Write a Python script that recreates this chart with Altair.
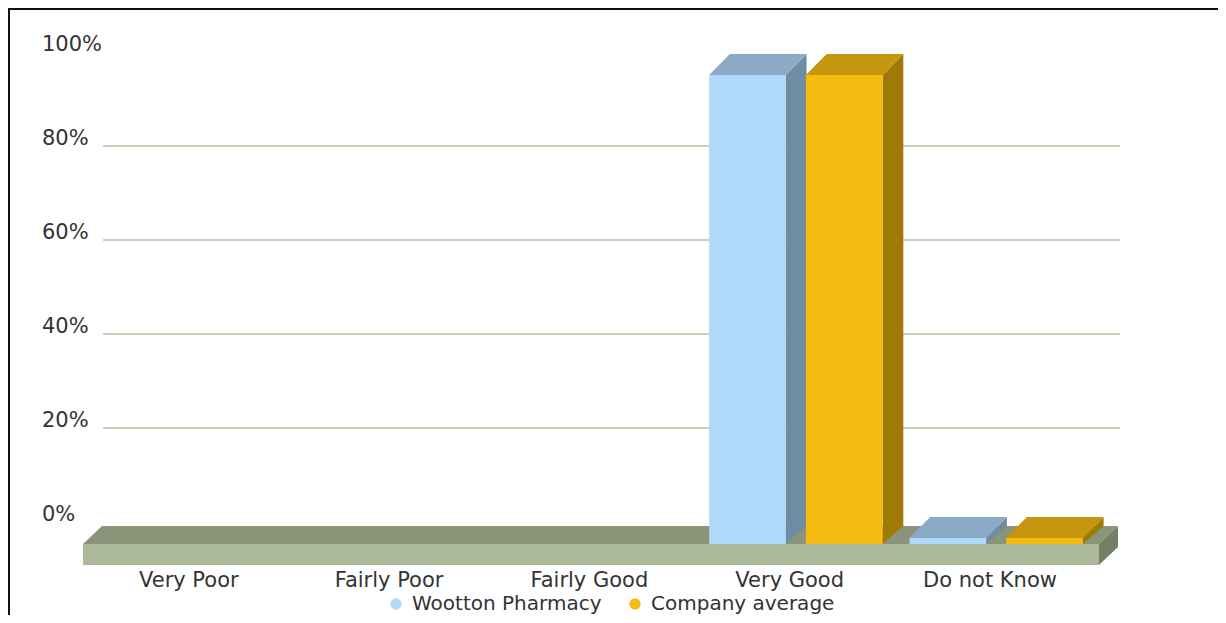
import altair as alt
import pandas as pd

# ---------------- data ----------------
categories = ["Very Poor", "Fairly Poor", "Fairly Good", "Very Good", "Do not Know"]
series = ["Wootton Pharmacy", "Company average"]
wootton = [0, 0, 0, 99.8, 1.3]
company = [0, 0, 0, 99.8, 1.3]
y_ticks = [0, 20, 40, 60, 80, 100]
y_tick_labels = ["0%", "20%", "40%", "60%", "80%", "100%"]
grid_values = [20, 40, 60, 80]

front_colors = ["#B0D8F8", "#F5BB10"]
top_colors = ["#8BAAC5", "#C6970E"]
side_colors = ["#6F8CA3", "#A07A08"]

# ---------------- 3D geometry (data units) ----------------
BAR_W = 0.383          # bar width in category units
BAR_DX = 0.1033        # depth offset in category units
BAR_DY = 4.47          # depth offset in percent units
SERIES_OFF = [-0.432, 0.051]
FLOOR_FRONT = -4.68    # y of floor front/top edge
FLOOR_BACK = -0.85     # y of floor back edge
FLOOR_BOTTOM = -9.15
FLOOR_L, FLOOR_R, FLOOR_DX = -0.558, 4.514, 0.095
LABEL_Y = -13.8
LABEL_DX = -0.03

FONT = "DejaVu Sans"
FS = 21
TXT = "#333333"

x_scale = alt.Scale(domain=[-0.4583, 4.6191], nice=False, zero=False)
y_scale = alt.Scale(domain=[0, 100], nice=False, zero=False)

values = [wootton, company]
front_rows, top_rows, side_rows = [], [], []
for si, s in enumerate(series):
    for k, cat in enumerate(categories):
        v = values[si][k]
        if v <= 0:
            continue
        x0 = k + SERIES_OFF[si]
        x1 = x0 + BAR_W
        yt = FLOOR_FRONT + v
        fid = f"{si}-{k}"
        front_rows.append(dict(series=s, cat=cat, value=v, x0=x0, x1=x1, y0=FLOOR_FRONT, y1=yt))
        top_rows.append(dict(id=fid, c=top_colors[si], y=yt, xa=x0, xb=x1))
        top_rows.append(dict(id=fid, c=top_colors[si], y=yt + BAR_DY, xa=x0 + BAR_DX, xb=x1 + BAR_DX))
        side_rows.append(dict(id=fid, c=side_colors[si], x=x1, ylo=FLOOR_FRONT, yhi=yt))
        side_rows.append(dict(id=fid, c=side_colors[si], x=x1 + BAR_DX, ylo=FLOOR_BACK, yhi=yt + BAR_DY))

front_df = pd.DataFrame(front_rows)
top_df = pd.DataFrame(top_rows)
side_df = pd.DataFrame(side_rows)

floor_front_df = pd.DataFrame([dict(x0=FLOOR_L, x1=FLOOR_R, y0=FLOOR_BOTTOM, y1=FLOOR_FRONT)])
floor_top_df = pd.DataFrame([
    dict(id="f", y=FLOOR_FRONT, xa=FLOOR_L, xb=FLOOR_R),
    dict(id="f", y=FLOOR_BACK, xa=FLOOR_L + FLOOR_DX, xb=FLOOR_R + FLOOR_DX),
])
floor_side_df = pd.DataFrame([
    dict(id="f", x=FLOOR_R, ylo=FLOOR_BOTTOM, yhi=FLOOR_FRONT),
    dict(id="f", x=FLOOR_R + FLOOR_DX, ylo=FLOOR_BOTTOM + (FLOOR_BACK - FLOOR_FRONT), yhi=FLOOR_BACK),
])
grid_df = pd.DataFrame({"v": grid_values})
ytick_df = pd.DataFrame({"v": y_ticks, "t": y_tick_labels})
label_df = pd.DataFrame({"cat": categories, "x": [k + LABEL_DX for k in range(len(categories))],
                         "y": [LABEL_Y] * len(categories)})

# ---------------- layers ----------------
ylabels = alt.Chart(ytick_df).mark_text(font=FONT, fontSize=FS, color=TXT, align="left",
                                         baseline="alphabetic", dy=-1).encode(
    y=alt.Y("v:Q", scale=y_scale, axis=None),
    x=alt.value(-61),
    text="t:N",
)

grid_layer = alt.Chart(grid_df).mark_rule(color="#B3C49D", strokeWidth=1.6).encode(
    y=alt.Y("v:Q", scale=y_scale, axis=None)
)

floor_top = alt.Chart(floor_top_df).mark_area(orient="horizontal", color="#8A9478").encode(
    y=alt.Y("y:Q", scale=y_scale, axis=None),
    x=alt.X("xa:Q", scale=x_scale, axis=None, stack=None),
    x2="xb:Q",
    detail="id:N",
)
floor_front = alt.Chart(floor_front_df).mark_rect(color="#ABB89A").encode(
    x=alt.X("x0:Q", scale=x_scale, axis=None), x2="x1:Q",
    y=alt.Y("y0:Q", scale=y_scale, axis=None), y2="y1:Q",
)
floor_side = alt.Chart(floor_side_df).mark_area(orient="vertical", color="#747E64").encode(
    x=alt.X("x:Q", scale=x_scale, axis=None),
    y=alt.Y("ylo:Q", scale=y_scale, axis=None, stack=None),
    y2="yhi:Q",
    detail="id:N",
)

sides = alt.Chart(side_df).mark_area(orient="vertical").encode(
    x=alt.X("x:Q", scale=x_scale, axis=None),
    y=alt.Y("ylo:Q", scale=y_scale, axis=None, stack=None),
    y2="yhi:Q",
    detail="id:N",
    color=alt.Color("c:N", scale=None),
)
tops = alt.Chart(top_df).mark_area(orient="horizontal").encode(
    y=alt.Y("y:Q", scale=y_scale, axis=None),
    x=alt.X("xa:Q", scale=x_scale, axis=None, stack=None),
    x2="xb:Q",
    detail="id:N",
    color=alt.Color("c:N", scale=None),
)
fronts = alt.Chart(front_df).mark_rect().encode(
    x=alt.X("x0:Q", scale=x_scale, axis=None), x2="x1:Q",
    y=alt.Y("y0:Q", scale=y_scale, axis=None), y2="y1:Q",
    color=alt.Color("series:N", scale=alt.Scale(domain=series, range=front_colors),
                    legend=alt.Legend(orient="none", legendX=283, legendY=542, direction="horizontal",
                                      title=None, symbolType="circle", symbolSize=130,
                                      symbolStrokeWidth=0, labelFont=FONT, labelFontSize=20,
                                      labelColor=TXT, labelOffset=6, columnPadding=23,
                                      padding=0, labelLimit=400)),
    tooltip=["series:N", "cat:N", "value:Q"],
)

labels = alt.Chart(label_df).mark_text(font=FONT, fontSize=FS, color=TXT, align="center",
                                        baseline="alphabetic").encode(
    x=alt.X("x:Q", scale=x_scale, axis=None),
    y=alt.Y("y:Q", scale=y_scale, axis=None),
    text="cat:N",
)

frame_left = alt.Chart(pd.DataFrame({"a": [0]})).mark_rule(color="#111111", strokeWidth=2).encode(
    x=alt.value(-94), y=alt.value(-44), y2=alt.value(563)
)
frame_top = alt.Chart(pd.DataFrame({"a": [0]})).mark_rule(color="#111111", strokeWidth=2).encode(
    x=alt.value(-95), x2=alt.value(1115), y=alt.value(-43)
)

chart = alt.layer(
    ylabels, grid_layer, floor_top, floor_front, floor_side, sides, tops, fronts, labels,
    frame_left, frame_top,
).properties(
    width=1017, height=470,
    autosize=alt.AutoSizeParams(type="none"),
    padding={"left": 95, "top": 44, "right": 98, "bottom": 93},
).configure(background="white", view=alt.ViewConfig(strokeWidth=0))

chart.save("out.html", embed_options={"renderer": "svg", "actions": False})
